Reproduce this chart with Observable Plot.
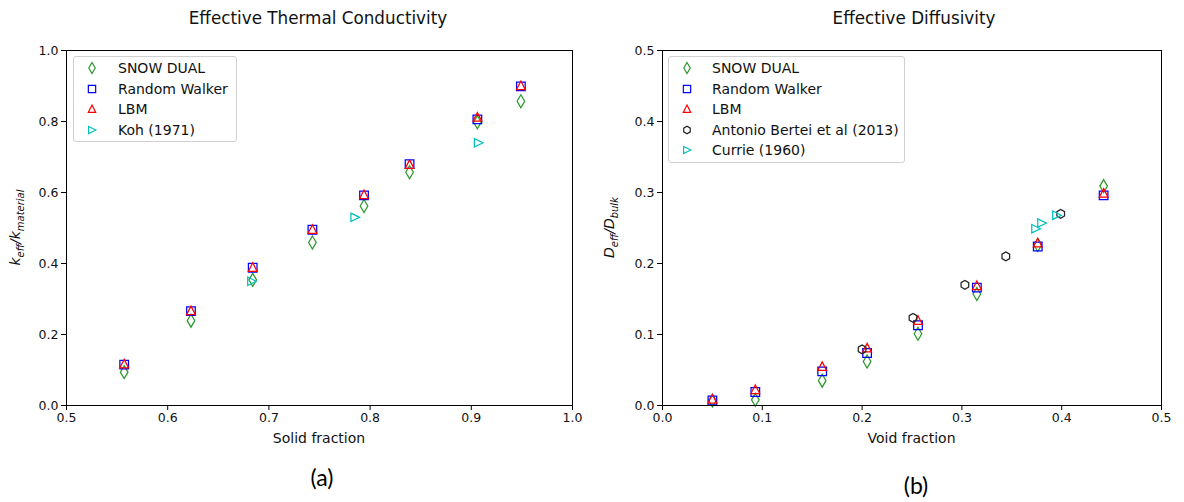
<!DOCTYPE html>
<html>
<head>
<meta charset="utf-8">
<script src="https://cdn.jsdelivr.net/npm/d3@7"></script>
<script src="https://cdn.jsdelivr.net/npm/@observablehq/plot@0.6"></script>
<style>
  body { margin: 0; background: #fff; }
  #root { position: relative; width: 1184px; height: 502px; overflow: hidden; font-family: "DejaVu Sans", sans-serif; color: #000; }
  .title { position: absolute; font-size: 16.8px; transform: translate(-50%, -50%); white-space: nowrap; color: #111; }
  .caption { position: absolute; font-family: "Lato", "Open Sans", sans-serif; font-size: 23px; transform: translate(-50%, -50%); }
  .legend { position: absolute; border: 1px solid #d0d0d0; border-radius: 3px; background: rgba(255,255,255,0.85); box-sizing: border-box; }
  .legrow { position: absolute; font-size: 14px; white-space: nowrap; transform: translateY(-50%); color: #111; }
</style>
</head>
<body>
<div id="root"></div>
<script>
// ---------- Data ----------
// (a) Effective thermal conductivity vs solid fraction
const solidX = [0.557, 0.623, 0.684, 0.743, 0.794, 0.839, 0.906, 0.949];
const kSnowDual = [0.094, 0.239, 0.354, 0.459, 0.562, 0.657, 0.798, 0.857];
const kRandomWalker = [0.115, 0.266, 0.388, 0.495, 0.592, 0.680, 0.806, 0.899];
const kLBM = [0.117, 0.267, 0.389, 0.496, 0.594, 0.679, 0.812, 0.901];
const kohX = [0.683, 0.785, 0.907];
const kohY = [0.350, 0.530, 0.740];

// (b) Effective diffusivity vs void fraction
const voidX = [0.050, 0.093, 0.160, 0.205, 0.256, 0.315, 0.376, 0.442];
const dSnowDual = [0.007, 0.008, 0.035, 0.062, 0.101, 0.157, 0.226, 0.309];
const dRandomWalker = [0.007, 0.019, 0.048, 0.074, 0.113, 0.166, 0.224, 0.296];
const dLBM = [0.009, 0.0225, 0.055, 0.081, 0.120, 0.169, 0.229, 0.299];
const berteiX = [0.200, 0.251, 0.303, 0.344, 0.399];
const berteiY = [0.079, 0.1235, 0.170, 0.210, 0.270];
const currieX = [0.374, 0.380, 0.395];
const currieY = [0.249, 0.257, 0.268];

const xTicksA = [0.5, 0.6, 0.7, 0.8, 0.9, 1.0];
const yTicksA = [0.0, 0.2, 0.4, 0.6, 0.8, 1.0];
const xTicksB = [0.0, 0.1, 0.2, 0.3, 0.4, 0.5];
const yTicksB = [0.0, 0.1, 0.2, 0.3, 0.4, 0.5];

const seriesNames = ["SNOW DUAL", "Random Walker", "LBM", "Koh (1971)", "Antonio Bertei et al (2013)", "Currie (1960)"];

// ---------- Styles ----------
const GREEN = "#2a9a2a", BLUE = "#0000ff", RED = "#ff0000", CYAN = "#00bfbf", BLACK = "#222222";

const thinDiamond = { draw(c) { c.moveTo(0, -6.5); c.lineTo(3.8, 0); c.lineTo(0, 6.5); c.lineTo(-3.8, 0); c.closePath(); } };
const square = { draw(c) { c.moveTo(-4.3, -4.3); c.lineTo(4.3, -4.3); c.lineTo(4.3, 4.3); c.lineTo(-4.3, 4.3); c.closePath(); } };
const triUp = { draw(c) { c.moveTo(0, -4.6); c.lineTo(4.4, 4.0); c.lineTo(-4.4, 4.0); c.closePath(); } };
const triRight = { draw(c) { c.moveTo(-4.0, -4.2); c.lineTo(4.6, 0); c.lineTo(-4.0, 4.2); c.closePath(); } };
const hexa = { draw(c) { const r = 4.4; for (let i = 0; i < 6; i++) { const a = Math.PI / 6 + i * Math.PI / 3; const x = r * Math.cos(a), y = r * Math.sin(a); i ? c.lineTo(x, y) : c.moveTo(x, y); } c.closePath(); } };

const styles = {
  "SNOW DUAL": { sym: thinDiamond, color: GREEN },
  "Random Walker": { sym: square, color: BLUE },
  "LBM": { sym: triUp, color: RED },
  "Koh (1971)": { sym: triRight, color: CYAN },
  "Antonio Bertei et al (2013)": { sym: hexa, color: BLACK },
  "Currie (1960)": { sym: triRight, color: CYAN }
};

function pts(xs, ys) { return xs.map((x, i) => ({ x, y: ys[i] })); }
function dots(data, name) {
  const s = styles[name];
  return Plot.dot(data, { x: "x", y: "y", symbol: s.sym, stroke: s.color, fill: "none", strokeWidth: 1.25, r: 4 });
}

const root = document.getElementById("root");
const W = 592, H = 450;

function makePlot(opts) {
  const p = Plot.plot({
    width: W, height: H,
    marginLeft: opts.ml, marginRight: opts.mr, marginTop: 50, marginBottom: H - 405,
    style: { fontFamily: "DejaVu Sans, sans-serif", fontSize: "12.5px", color: "#111", background: "transparent", overflow: "visible" },
    x: { domain: opts.xd, ticks: opts.xt, tickFormat: ".1f" },
    y: { domain: opts.yd, ticks: opts.yt, tickFormat: ".1f" },
    marks: [
      Plot.axisX({ ticks: opts.xt, tickFormat: ".1f", tickSize: 5, tickPadding: 3, label: null, stroke: "#000" }),
      Plot.axisY({ ticks: opts.yt, tickFormat: ".1f", tickSize: 5, tickPadding: 3, label: null, stroke: "#000" }),
      ...opts.marks,
      Plot.frame({ stroke: "#000", strokeWidth: 1 })
    ]
  });
  p.style.position = "absolute";
  p.style.left = opts.left + "px";
  p.style.top = "0px";
  root.appendChild(p);
  const svg = d3.select(p);
  // x label
  svg.append("text")
    .attr("x", (opts.ml + (W - opts.mr)) / 2).attr("y", 438)
    .attr("text-anchor", "middle").attr("dominant-baseline", "central")
    .attr("font-size", "14px").attr("fill", "#111")
    .text(opts.xlabel);
  // y label with subscripts
  const t = svg.append("text")
    .attr("transform", `translate(${opts.ylx},${(50 + 405) / 2}) rotate(-90)`)
    .attr("text-anchor", "middle")
    .attr("font-style", "italic")
    .attr("font-size", "14px")
    .attr("fill", "#111");
  t.append("tspan").text(opts.ylab[0]);
  t.append("tspan").attr("dy", 3.5).attr("font-size", "10px").text(opts.ylab[1]);
  t.append("tspan").attr("dy", -3.5).text("/" + opts.ylab[2]);
  t.append("tspan").attr("dy", 3.5).attr("font-size", "10px").text(opts.ylab[3]);
  return p;
}

makePlot({
  left: 0, ml: 66, mr: W - 572, xd: [0.5, 1.0], yd: [0, 1.0], xt: xTicksA, yt: yTicksA,
  xlabel: "Solid fraction", ylx: 20, ylab: ["k", "eff", "k", "material"],
  marks: [
    dots(pts(solidX, kSnowDual), "SNOW DUAL"),
    dots(pts(solidX, kRandomWalker), "Random Walker"),
    dots(pts(solidX, kLBM), "LBM"),
    dots(pts(kohX, kohY), "Koh (1971)")
  ]
});

makePlot({
  left: W, ml: 662 - W, mr: 1184 - 1161, xd: [0, 0.5], yd: [0, 0.5], xt: xTicksB, yt: yTicksB,
  xlabel: "Void fraction", ylx: 614 - W, ylab: ["D", "eff", "D", "bulk"],
  marks: [
    dots(pts(voidX, dSnowDual), "SNOW DUAL"),
    dots(pts(voidX, dRandomWalker), "Random Walker"),
    dots(pts(voidX, dLBM), "LBM"),
    dots(pts(berteiX, berteiY), "Antonio Bertei et al (2013)"),
    dots(pts(currieX, currieY), "Currie (1960)")
  ]
});

// Titles and captions
function addDiv(cls, text, x, y) {
  const d = document.createElement("div");
  d.className = cls; d.textContent = text;
  d.style.left = x + "px"; d.style.top = y + "px";
  root.appendChild(d);
}
addDiv("title", "Effective Thermal Conductivity", 318, 18);
addDiv("title", "Effective Diffusivity", 914, 18);
addDiv("caption", "(a)", 322, 477);
addDiv("caption", "(b)", 916, 485);

// Legends
function legend(names, box, markerX, textX, rowYs) {
  const b = document.createElement("div");
  b.className = "legend";
  Object.assign(b.style, { left: box[0] + "px", top: box[1] + "px", width: box[2] + "px", height: box[3] + "px" });
  root.appendChild(b);
  names.forEach((n, i) => {
    const s = styles[n];
    const svg = d3.create("svg").attr("width", 16).attr("height", 16)
      .style("position", "absolute").style("left", (markerX - 8) + "px").style("top", (rowYs[i] - 8) + "px");
    const path = d3.path();
    s.sym.draw(path);
    svg.append("path").attr("d", path.toString()).attr("transform", "translate(8,8) scale(0.85)")
      .attr("fill", "none").attr("stroke", s.color).attr("stroke-width", 1.4);
    root.appendChild(svg.node());
    const r = document.createElement("div");
    r.className = "legrow"; r.textContent = n;
    r.style.left = textX + "px"; r.style.top = rowYs[i] + "px";
    root.appendChild(r);
  });
}
legend(seriesNames.slice(0, 4), [73, 56, 164, 86], 92, 118, [68, 88.5, 109, 129.5]);
legend([seriesNames[0], seriesNames[1], seriesNames[2], seriesNames[4], seriesNames[5]], [668, 56, 237, 107], 687, 712, [68, 88.5, 109, 129.5, 150]);
</script>
</body>
</html>
